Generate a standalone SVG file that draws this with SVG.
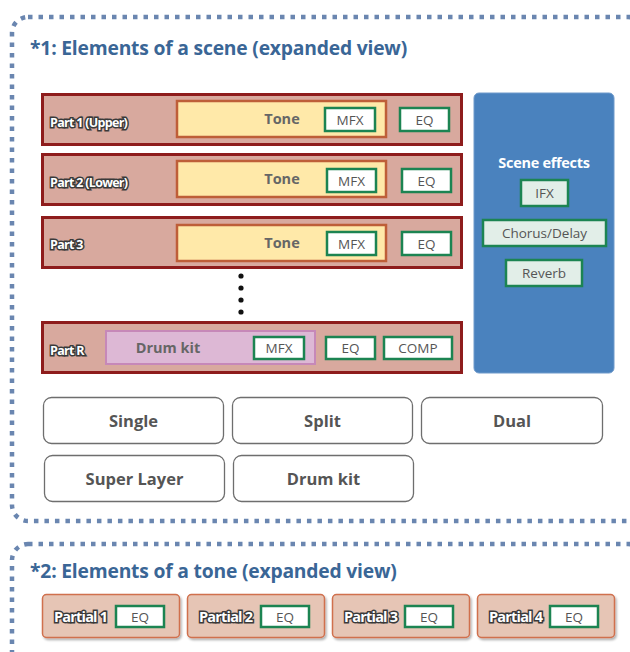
<svg xmlns="http://www.w3.org/2000/svg" width="630" height="652" viewBox="0 0 630 652">
<defs>
<filter id="sh" x="-10%" y="-10%" width="130%" height="140%"><feDropShadow dx="1.5" dy="2" stdDeviation="1.2" flood-color="#000" flood-opacity="0.3"/></filter>
</defs>
<style>
.frame{fill:none;stroke:#6A86B0;stroke-width:4.5;stroke-dasharray:4.5 6;}
.title{font-family:"Open Sans",sans-serif;font-weight:bold;font-size:19.3px;fill:#3A6696;letter-spacing:-0.2px;}
.part{fill:#D8A99E;stroke:#8E1C1C;stroke-width:3;}
.plabel{font-family:"Open Sans",sans-serif;font-weight:bold;font-size:12.5px;fill:#fff;stroke:#3A3A3A;stroke-width:3;paint-order:stroke;letter-spacing:-0.7px;}
.pplabel{font-family:"Open Sans",sans-serif;font-weight:bold;font-size:14.5px;fill:#fff;stroke:#3A3A3A;stroke-width:3;paint-order:stroke;letter-spacing:-0.8px;}
.tone{fill:#FFE9A9;stroke:#BE5E38;stroke-width:2.5;}
.drum{fill:#DDB8D5;stroke:#C688B8;stroke-width:2;}
.fx{fill:#fff;stroke:#1C8452;stroke-width:2.5;}
.sfx{fill:#E2EEE8;stroke:#1C8452;stroke-width:2.5;}
.t{font-family:"Open Sans",sans-serif;font-size:13.5px;fill:#555;text-anchor:middle;}
.tb{font-family:"Open Sans",sans-serif;font-weight:bold;font-size:14.5px;fill:#666;text-anchor:middle;}
.mode{fill:#fff;stroke:#6E6E6E;stroke-width:1.3;}
.mt{font-family:"Open Sans",sans-serif;font-weight:bold;font-size:16.5px;fill:#555;text-anchor:middle;}
.partial{fill:#E6C5B5;stroke:#D0704E;stroke-width:1.5;}
</style>
<rect class="frame" x="12" y="17" width="632" height="504" rx="16"/>
<rect class="frame" x="12" y="544" width="632" height="140" rx="16"/>
<text class="title" x="30" y="55">*1: Elements of a scene (expanded view)</text>
<text class="title" x="30" y="578">*2: Elements of a tone (expanded view)</text>

<g id="part1">
<rect class="part" x="42.5" y="94.5" width="419" height="50"/>
<text class="plabel" x="50" y="127">Part 1 (Upper)</text>
<rect class="tone" x="177" y="101" width="209" height="36"/>
<text class="tb" x="282" y="124">Tone</text>
<rect class="fx" x="325" y="108" width="50" height="23"/>
<text class="t" x="350" y="125">MFX</text>
<rect class="fx" x="400" y="108" width="49" height="23"/>
<text class="t" x="424.5" y="125">EQ</text>
</g>
<g id="part2">
<rect class="part" x="42.5" y="154.5" width="419" height="50"/>
<text class="plabel" x="50" y="187">Part 2 (Lower)</text>
<rect class="tone" x="177" y="161" width="209" height="36"/>
<text class="tb" x="282" y="184">Tone</text>
<rect class="fx" x="327" y="169" width="49" height="23"/>
<text class="t" x="351.5" y="186">MFX</text>
<rect class="fx" x="402" y="169" width="49" height="23"/>
<text class="t" x="426.5" y="186">EQ</text>
</g>
<g id="part3">
<rect class="part" x="42.5" y="217.5" width="419" height="50"/>
<text class="plabel" x="50" y="249">Part 3</text>
<rect class="tone" x="177" y="225" width="209" height="36"/>
<text class="tb" x="282" y="248">Tone</text>
<rect class="fx" x="327" y="232" width="49" height="23"/>
<text class="t" x="351.5" y="249">MFX</text>
<rect class="fx" x="402" y="232" width="49" height="23"/>
<text class="t" x="426.5" y="249">EQ</text>
</g>
<g id="dots" fill="#111">
<circle cx="241" cy="276" r="2.6"/>
<circle cx="241" cy="288" r="2.6"/>
<circle cx="241" cy="300" r="2.6"/>
<circle cx="241" cy="312" r="2.6"/>
</g>
<g id="partR">
<rect class="part" x="42.5" y="322.5" width="419" height="50"/>
<text class="plabel" x="50" y="355">Part R</text>
<rect class="drum" x="106" y="331" width="209" height="33"/>
<text class="tb" x="168" y="353">Drum kit</text>
<rect class="fx" x="254" y="337" width="50" height="22"/>
<text class="t" x="279" y="353">MFX</text>
<rect class="fx" x="326" y="337" width="49" height="22"/>
<text class="t" x="350.5" y="353">EQ</text>
<rect class="fx" x="384" y="337" width="68" height="22"/>
<text class="t" x="418" y="353">COMP</text>
</g>
<g id="scene-effects">
<rect x="474" y="93" width="140" height="280" rx="5" fill="#4A82BE" stroke="#6F9ACB" stroke-width="1"/>
<text x="544" y="168" font-family="'Open Sans',sans-serif" font-weight="bold" font-size="14.5" fill="#fff" text-anchor="middle" letter-spacing="-0.3">Scene effects</text>
<rect class="sfx" x="521" y="180" width="47" height="26"/>
<text class="t" x="544.5" y="198">IFX</text>
<rect class="sfx" x="483" y="220" width="123" height="26"/>
<text class="t" x="544.5" y="238">Chorus/Delay</text>
<rect class="sfx" x="506" y="260" width="76" height="26"/>
<text class="t" x="544" y="278">Reverb</text>
</g>
<g id="mode-single"><rect class="mode" x="43.5" y="397.5" width="180" height="46" rx="8"/><text class="mt" x="133.5" y="427">Single</text></g>
<g id="mode-split"><rect class="mode" x="232.5" y="397.5" width="180" height="46" rx="8"/><text class="mt" x="322.5" y="427">Split</text></g>
<g id="mode-dual"><rect class="mode" x="421.5" y="397.5" width="181" height="46" rx="8"/><text class="mt" x="512" y="427">Dual</text></g>
<g id="mode-superlayer"><rect class="mode" x="44.5" y="455.5" width="180" height="46" rx="8"/><text class="mt" x="134.5" y="485">Super Layer</text></g>
<g id="mode-drumkit"><rect class="mode" x="233.5" y="455.5" width="180" height="46" rx="8"/><text class="mt" x="323.5" y="485">Drum kit</text></g>

<g id="partial1"><rect class="partial" x="42.5" y="594.5" width="137" height="43" rx="4" filter="url(#sh)"/><text class="pplabel" x="54" y="622">Partial 1</text><rect class="fx" x="116" y="606" width="48" height="21"/><text class="t" x="140" y="622">EQ</text></g>
<g id="partial2"><rect class="partial" x="187.5" y="594.5" width="137" height="43" rx="4" filter="url(#sh)"/><text class="pplabel" x="199" y="622">Partial 2</text><rect class="fx" x="261" y="606" width="48" height="21"/><text class="t" x="285" y="622">EQ</text></g>
<g id="partial3"><rect class="partial" x="332.5" y="594.5" width="137" height="43" rx="4" filter="url(#sh)"/><text class="pplabel" x="344" y="622">Partial 3</text><rect class="fx" x="405" y="606" width="48" height="21"/><text class="t" x="429" y="622">EQ</text></g>
<g id="partial4"><rect class="partial" x="477.5" y="594.5" width="137" height="43" rx="4" filter="url(#sh)"/><text class="pplabel" x="489" y="622">Partial 4</text><rect class="fx" x="550" y="606" width="48" height="21"/><text class="t" x="574" y="622">EQ</text></g>
</svg>
